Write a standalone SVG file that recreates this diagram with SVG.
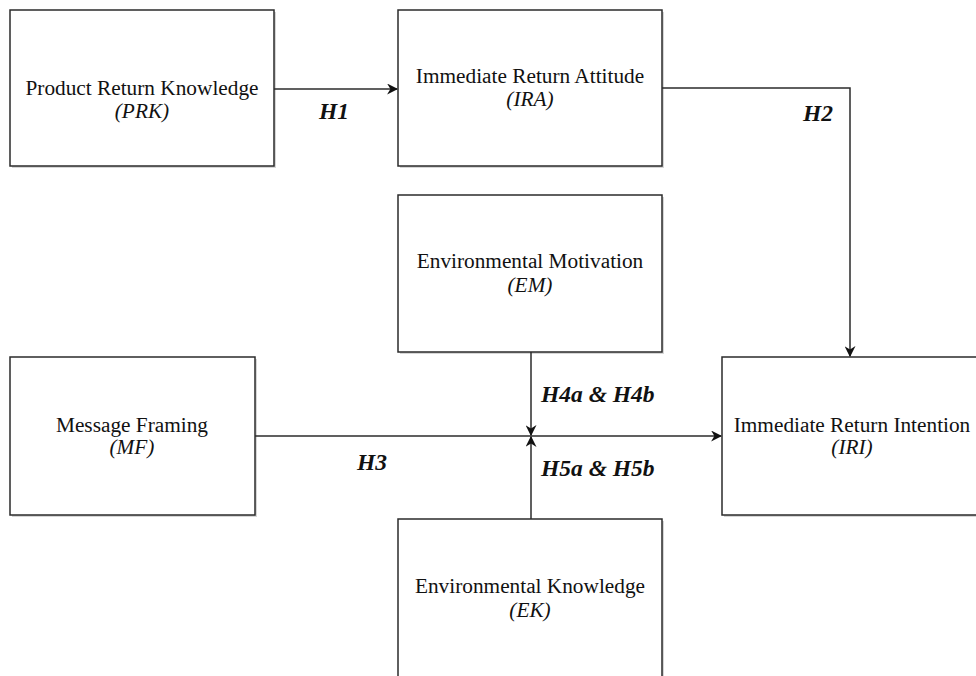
<svg xmlns="http://www.w3.org/2000/svg" width="976" height="676" viewBox="0 0 976 676">
<style>
.box{fill:#fff;stroke:#2b2b2b;stroke-width:1.5}
.shadow{fill:#bbb;opacity:0.6}
.t{font-family:"Liberation Serif","Times New Roman",serif;font-size:21.3px;fill:#111;text-anchor:middle}
.i{font-style:italic}
.lbl{font-family:"Liberation Serif","Times New Roman",serif;font-size:23.5px;font-weight:bold;font-style:italic;fill:#111}
.edge{fill:none;stroke:#2b2b2b;stroke-width:1.5}
</style>
<defs>
<marker id="arr" viewBox="0 0 10 10" refX="9" refY="5" markerWidth="11" markerHeight="11" markerUnits="userSpaceOnUse" orient="auto">
<path d="M0,0 L10,5 L0,10 L3,5 z" fill="#111"/>
</marker>
</defs>
<rect width="976" height="676" fill="#fff"/>
<g id="PRK">
<rect class="shadow" x="12" y="12" width="264" height="156"/>
<rect class="box" x="10" y="10" width="264" height="156"/>
<text class="t" x="142" y="95">Product Return Knowledge</text>
<text class="t i" x="142" y="118">(PRK)</text>
</g>
<g id="IRA">
<rect class="shadow" x="400" y="12" width="264" height="156"/>
<rect class="box" x="398" y="10" width="264" height="156"/>
<text class="t" x="530" y="83">Immediate Return Attitude</text>
<text class="t i" x="530" y="106">(IRA)</text>
</g>
<g id="EM">
<rect class="shadow" x="400" y="197" width="264" height="157"/>
<rect class="box" x="398" y="195" width="264" height="157"/>
<text class="t" x="530" y="268">Environmental Motivation</text>
<text class="t i" x="530" y="292">(EM)</text>
</g>
<g id="MF">
<rect class="shadow" x="12" y="359" width="245" height="158"/>
<rect class="box" x="10" y="357" width="245" height="158"/>
<text class="t" x="132" y="432">Message Framing</text>
<text class="t i" x="132" y="454">(MF)</text>
</g>
<g id="IRI">
<rect class="shadow" x="724" y="359" width="260" height="158"/>
<rect class="box" x="722" y="357" width="260" height="158"/>
<text class="t" x="852" y="432">Immediate Return Intention</text>
<text class="t i" x="852" y="454">(IRI)</text>
</g>
<g id="EK">
<rect class="shadow" x="400" y="521" width="264" height="170"/>
<rect class="box" x="398" y="519" width="264" height="170"/>
<text class="t" x="530" y="593">Environmental Knowledge</text>
<text class="t i" x="530" y="617">(EK)</text>
</g>
<g id="connectors">
<path class="edge" d="M274,89 L397,89" marker-end="url(#arr)"/>
<path class="edge" d="M662,88 L850,88 L850,356" marker-end="url(#arr)"/>
<path class="edge" d="M255,436 L721,436" marker-end="url(#arr)"/>
<path class="edge" d="M531,352 L531,435" marker-end="url(#arr)"/>
<path class="edge" d="M531,519 L531,437" marker-end="url(#arr)"/>
</g>
<g id="labels">
<text class="lbl" x="319" y="119">H1</text>
<text class="lbl" x="803" y="121">H2</text>
<text class="lbl" x="357" y="470">H3</text>
<text class="lbl" x="541" y="402">H4a &amp; H4b</text>
<text class="lbl" x="541" y="476">H5a &amp; H5b</text>
</g>
</svg>
